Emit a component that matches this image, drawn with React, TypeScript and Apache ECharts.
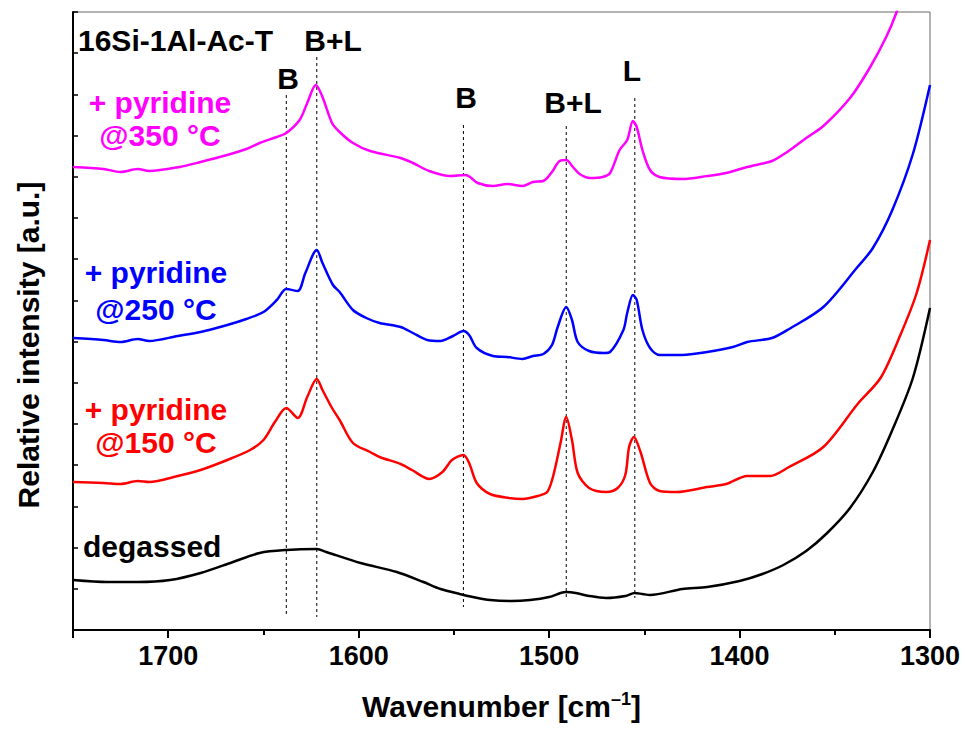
import React, { useEffect, useRef } from "react";
import * as echarts from "echarts";

// Wavenumber [cm-1], relative intensity [a.u.]
const degassed: [number, number][] = [
  [1750, 50], [1732, 48], [1716, 48], [1699, 50], [1683, 57], [1666, 68], [1652, 77], [1638, 80],
  [1622, 81], [1617, 78], [1599, 67], [1580, 58], [1566, 48], [1557, 41], [1547, 36], [1540, 33],
  [1531, 30], [1520, 29], [1510, 30], [1500, 33], [1494, 37], [1491, 38], [1486, 37], [1479, 34],
  [1470, 32], [1460, 34], [1455, 37], [1451, 36], [1447, 35], [1430, 41], [1417, 43], [1400, 49],
  [1388, 56], [1377, 65], [1365, 79], [1354, 97], [1342, 122], [1330, 158], [1320, 199], [1309, 252], [1300, 322],
];

const py150: [number, number][] = [
  [1750, 148], [1734, 147], [1725, 146], [1716, 149], [1710, 148], [1695, 154], [1683, 160],
  [1669, 170], [1657, 180], [1650, 190], [1644, 208], [1638, 222], [1632, 212], [1627, 233],
  [1622, 251], [1619, 240], [1614, 222], [1610, 210], [1603, 187], [1594, 178], [1589, 173],
  [1578, 166], [1572, 160], [1563, 151], [1556, 158], [1551, 170], [1545, 175], [1542, 167],
  [1538, 147], [1531, 136], [1521, 132], [1514, 131], [1506, 134], [1501, 138], [1498, 153],
  [1494, 187], [1491, 213], [1488, 190], [1485, 157], [1479, 142], [1470, 138], [1464, 142],
  [1460, 155], [1458, 183], [1455.5, 193], [1452, 178], [1447, 147], [1442, 139], [1433, 138],
  [1417, 143], [1407, 146], [1396, 154], [1384, 154], [1374, 163], [1356, 183], [1338, 226],
  [1326, 252], [1316, 293], [1307, 337], [1300, 390],
];

const py250: [number, number][] = [
  [1750, 292], [1734, 290], [1725, 288], [1716, 291], [1710, 289], [1695, 294], [1683, 298],
  [1669, 305], [1659, 311], [1650, 318], [1643, 330], [1638, 341], [1632, 339], [1628, 357],
  [1622, 380], [1619, 367], [1613.5, 345], [1610, 338], [1603, 320], [1596, 312], [1589, 307],
  [1578, 303], [1571.5, 297], [1564, 290], [1557, 289], [1550.5, 294], [1545, 299], [1542, 295],
  [1538, 282], [1529.5, 274], [1522, 273], [1514, 271], [1508.5, 274], [1503, 276], [1498.5, 285],
  [1495.5, 303], [1491, 323], [1488, 310], [1485, 288], [1479, 279], [1471, 277], [1468, 278],
  [1461, 300], [1459, 317], [1456, 335], [1454, 330], [1451, 300], [1447, 282], [1442, 275],
  [1430, 275], [1417, 278], [1403.5, 283], [1396, 288], [1383, 292], [1374, 301], [1356, 323],
  [1338.5, 362], [1330, 382], [1320, 419], [1309, 476], [1300, 545],
];

const py350: [number, number][] = [
  [1750, 463], [1734, 461], [1725, 458], [1716, 461], [1710, 459], [1694, 463], [1683, 468],
  [1669, 475], [1659, 481], [1652, 487], [1643, 493], [1638, 497], [1631, 510], [1627, 527],
  [1622.5, 545], [1619, 533], [1614, 507], [1610, 498], [1603, 487], [1594, 479], [1578, 472],
  [1571.5, 467], [1563, 459], [1552, 454], [1544, 455], [1541.5, 453], [1537.5, 447], [1529.5, 444],
  [1522, 446], [1514, 444], [1508.5, 448], [1503, 449], [1498.5, 458], [1494.5, 469], [1491, 470],
  [1487.5, 463], [1484, 456], [1478.5, 452], [1472, 453], [1468, 457], [1463, 480], [1459, 490],
  [1456, 509], [1454, 503], [1451, 480], [1447, 460], [1442, 453], [1430, 451], [1417, 454],
  [1407, 457], [1396, 463], [1383, 469], [1375, 478], [1365, 492], [1356, 504], [1342, 532],
  [1332, 561], [1323, 593], [1317.5, 618], [1313, 645],
];

// Band positions (dashed markers) and their vertical extents in a.u.
const bandPositions = [1638, 1622, 1545, 1491, 1455];
const bandTops = [535, 573, 505, 504, 532];
const bandBottoms = [15, 13, 23, 30, 32];

const seriesNames = ["+ pyridine @350 °C", "+ pyridine @250 °C", "+ pyridine @150 °C", "degassed"];
const seriesColors = ["#FF00FF", "#0000FF", "#FF0000", "#000000"];
const xTicks = [1300, 1400, 1500, 1600, 1700];

const FONT = "'Liberation Sans', Arial, Helvetica, sans-serif";

export default function App() {
  const ref = useRef<HTMLDivElement>(null);
  useEffect(() => {
    if (!ref.current) return;
    const chart = echarts.init(ref.current, null, { renderer: "svg" });
    const dataSets = [py350, py250, py150, degassed];

    const bandSeries = bandPositions.map((p, i) => ({
      name: "band" + p,
      type: "line",
      data: [
        [p, bandTops[i]],
        [p, bandBottoms[i]],
      ],
      symbol: "none",
      silent: true,
      lineStyle: { color: "#000", width: 1, type: [3, 3] },
      z: 1,
    }));

    const curveSeries = dataSets.map((d, i) => ({
      name: seriesNames[i],
      type: "line",
      data: d,
      symbol: "none",
      smooth: 0.3,
      clip: true,
      lineStyle: { color: seriesColors[i], width: 2.5 },
      z: 3,
    }));

    const txt = (text: string, x: number, y: number, fill: string, align = "center") => ({
      type: "text",
      x,
      y,
      style: {
        text,
        fill,
        font: `bold 30px ${FONT}`,
        align,
        verticalAlign: "middle",
      },
    });

    chart.setOption({
      animation: false,
      grid: {
        left: 73,
        right: 36,
        top: 12,
        bottom: 99,
        show: true,
        borderColor: "#666",
        borderWidth: 1,
      },
      xAxis: [
        {
          type: "value",
          min: 1300,
          max: 1750,
          interval: 50,
          inverse: true,
          position: "bottom",
          axisLine: { show: true, lineStyle: { color: "#000", width: 2 } },
          axisTick: { show: true, inside: false, length: 5, lineStyle: { color: "#000", width: 2 } },
          axisLabel: {
            color: "#000",
            fontFamily: FONT,
            fontWeight: "bold",
            fontSize: 27,
            margin: 12,
            formatter: (v: number) => (xTicks.includes(v) ? String(v) : ""),
          },
          splitLine: { show: false },
          name: "Wavenumber [cm{sup|–1}]",
          nameLocation: "middle",
          nameGap: 60,
          nameTextStyle: {
            color: "#000",
            fontFamily: FONT,
            fontWeight: "bold",
            fontSize: 30,
            rich: {
              sup: {
                fontFamily: FONT,
                fontWeight: "bold",
                fontSize: 18,
                color: "#000",
                verticalAlign: "top",
                padding: [0, 0, 14, 0],
              },
            },
          },
        },
        {
          type: "value",
          min: 1300,
          max: 1750,
          interval: 100,
          inverse: true,
          position: "bottom",
          axisLine: { show: false },
          axisTick: { show: true, inside: false, length: 8, lineStyle: { color: "#000", width: 2 } },
          axisLabel: { show: false },
          splitLine: { show: false },
        },
      ],
      yAxis: {
        type: "value",
        min: 0,
        max: 618,
        interval: 41.2,
        axisLine: { show: true, lineStyle: { color: "#000", width: 2 } },
        axisTick: { show: true, inside: true, length: 5, lineStyle: { color: "#000", width: 1.5 } },
        axisLabel: { show: false },
        splitLine: { show: false },
      },
      series: [...bandSeries, ...curveSeries],
      graphic: [
        {
          type: "text",
          x: 28,
          y: 345,
          rotation: Math.PI / 2,
          style: {
            text: "Relative intensity [a.u.]",
            fill: "#000",
            font: `bold 30px ${FONT}`,
            align: "center",
            verticalAlign: "middle",
          },
        },
        txt("16Si-1Al-Ac-T", 78, 40, "#000", "left"),
        txt("B+L", 333, 40, "#000"),
        txt("B", 288, 78, "#000"),
        txt("B", 466, 97, "#000"),
        txt("B+L", 573, 102, "#000"),
        txt("L", 632, 70, "#000"),
        txt("+ pyridine", 160, 102, seriesColors[0]),
        txt("@350 °C", 160, 135, seriesColors[0]),
        txt("+ pyridine", 156, 272, seriesColors[1]),
        txt("@250 °C", 156, 309, seriesColors[1]),
        txt("+ pyridine", 156, 409, seriesColors[2]),
        txt("@150 °C", 156, 442, seriesColors[2]),
        txt("degassed", 83, 546, seriesColors[3], "left"),
      ],
    });
    return () => chart.dispose();
  }, []);
  return (
    <div
      ref={ref}
      style={{ position: "fixed", left: 0, top: 0, width: 966, height: 729, background: "#fff" }}
    />
  );
}
